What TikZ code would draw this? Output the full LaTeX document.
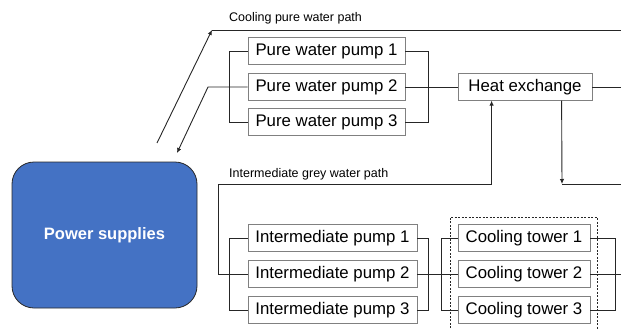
\documentclass[tikz,border=0pt]{standalone}
\usepackage{fontspec}
\setmainfont{Liberation Sans}
\usetikzlibrary{arrows.meta}
\definecolor{psblue}{RGB}{68,114,196}
\definecolor{psedge}{RGB}{40,40,40}
\tikzset{
    unit/.style={draw=black!50,fill=white,line width=0.8pt,minimum height=26.5pt,inner sep=0pt,font=\fontsize{16.8}{18}\selectfont},
    supply/.style={draw=psedge,fill=psblue,line width=0.8pt,rounded corners=22pt,minimum width=185pt,minimum height=146pt,text=white,font=\fontsize{16.5}{18}\selectfont\bfseries},
    pathlabel/.style={anchor=west,inner sep=0pt,font=\fontsize{12.5}{14}\selectfont},
    pipe/.style={draw=black!85,line width=0.9pt},
    flow/.style={pipe,-{Latex[length=5pt,width=4.5pt]}},
    towerbox/.style={draw=black!85,line width=0.8pt,dash pattern=on 2pt off 1.5pt}
}
\def\pwx{326.5}
\def\ipx{332.5}
\def\ctx{524}

\begin{document}
\begin{tikzpicture}[x=1pt,y=-1pt]
  \useasboundingbox (0,0) rectangle (621,329);

  % Power supplies
  \node[supply] (ps) at (104.5,235) {Power supplies};

  % Pure water pumps
  \node[unit,minimum width=157pt] (pw1) at (\pwx,51) {Pure water pump 1};
  \node[unit,minimum width=157pt] (pw2) at (\pwx,87) {Pure water pump 2};
  \node[unit,minimum width=157pt] (pw3) at (\pwx,122) {Pure water pump 3};
  \node[unit,minimum width=134pt] (hx) at (525,87) {Heat exchange};

  % Intermediate pumps and cooling towers
  \node[unit,minimum width=169pt] (ip1) at (\ipx,238) {Intermediate pump 1};
  \node[unit,minimum width=169pt] (ip2) at (\ipx,274) {Intermediate pump 2};
  \node[unit,minimum width=169pt] (ip3) at (\ipx,310) {Intermediate pump 3};
  \node[unit,minimum width=132pt] (ct1) at (\ctx,238) {Cooling tower 1};
  \node[unit,minimum width=132pt] (ct2) at (\ctx,274) {Cooling tower 2};
  \node[unit,minimum width=132pt] (ct3) at (\ctx,310) {Cooling tower 3};
  \draw[towerbox] (450,335) |- (597,217) -- (597,335);

  % Path labels
  \node[pathlabel] (lpure) at (229,18) {Cooling pure water path};
  \node[pathlabel] (lgrey) at (229,174) {Intermediate grey water path};

  % Free ends
  \coordinate (psout) at (157,143);
  \coordinate (psin) at (177,153);
  \coordinate (puretop) at (212,30);
  \coordinate (pureret) at (208,87);
  \coordinate (greytop) at (218,184);
  \coordinate (hxdown) at (562,184);
  \coordinate (out1) at (621,30);
  \coordinate (out2) at (621,87);
  \coordinate (out3) at (621,184);
  \coordinate (out4) at (621,274);

  % Pure water loop
  \draw[flow] (psout) -- (puretop);
  \draw[pipe] (puretop) -- (out1);
  \draw[pipe] (pw1.west) -- ++(-18,0) |- (pw3.west);
  \draw[pipe] (pw1.east) -- ++(23,0) |- (pw3.east);
  \draw[pipe] (pw2.east) -- (hx.west);
  \draw[pipe] (hx.east) -- (out2);
  \draw[flow] (pw2.west) -- (pureret) -- (psin);

  % Grey water loop
  \draw[flow] (ip2.west) -| (greytop) -| ([xshift=34pt]hx.south west);
  \draw[flow] ([xshift=104pt]hx.south west) -- (hxdown);
  \draw[pipe] (hxdown) -- (out3);
  \draw[pipe] (ip1.west) -- ++(-18,0) |- (ip3.west);
  \draw[pipe] (ip1.east) -- ++(11,0) |- (ip3.east);
  \draw[pipe] (ip2.east) -- (ct2.west);
  \draw[pipe] (ct1.west) -- ++(-16,0) |- (ct3.west);
  \draw[pipe] (ct1.east) -- ++(25,0) |- (ct3.east);
  \draw[pipe] (ct2.east) -- (out4);
\end{tikzpicture}
\end{document}
